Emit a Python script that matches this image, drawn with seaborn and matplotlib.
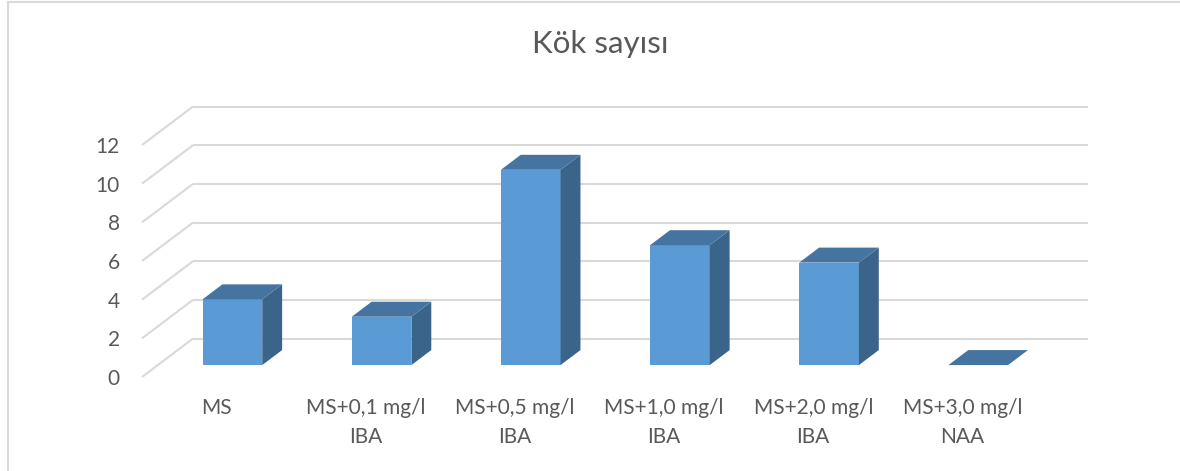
import matplotlib
matplotlib.use("Agg")
import matplotlib.pyplot as plt
from matplotlib.patches import Polygon, Rectangle
import seaborn as sns
import pandas as pd

# --- data -------------------------------------------------------------
categories = [
    "MS",
    "MS+0,1 mg/l\nIBA",
    "MS+0,5 mg/l\nIBA",
    "MS+1,0 mg/l\nIBA",
    "MS+2,0 mg/l\nIBA",
    "MS+3,0 mg/l\nNAA",
]
root_counts = [3.4, 2.5, 10.1, 6.2, 5.3, 0.0]
y_ticks = [0, 2, 4, 6, 8, 10, 12]
title_text = "Kök sayısı"

# --- style -------------------------------------------------------------
FRONT = "#5B9BD5"
TOP = "#4674A0"
SIDE = "#3A6489"
GRID = "#D9D9D9"
TEXT = "#595959"

# oblique "3-D" projection expressed in data units of the front plane
WALL_DX, WALL_DY = 0.342, 1.99   # offset of the back wall
BAR_FRONT = 0.31                 # depth fraction where bar front faces sit
BAR_DEPTH = 0.39                 # depth fraction spanned by each bar
BAR_WIDTH = 0.40

sns.set_theme(style="white")
plt.rcParams["font.family"] = "Lato"

W, H = 1180, 471
fig = plt.figure(figsize=(W / 100, H / 100), dpi=100)
ax = fig.add_axes([142 / W, (H - 377) / H, 895 / W, 232 / H])
ax.set_facecolor("none")

df = pd.DataFrame({"treatment": categories, "roots": root_counts})
sns.barplot(data=df, x="treatment", y="roots", ax=ax, color=FRONT,
            saturation=1, width=BAR_WIDTH, zorder=3, linewidth=0)

x_lo, x_hi = -0.5, len(categories) - 0.5

# back wall gridlines and the diagonals on the left side wall
for v in y_ticks:
    ax.plot([x_lo + WALL_DX, x_hi + WALL_DX], [v + WALL_DY, v + WALL_DY],
            color=GRID, lw=1.5, clip_on=False, zorder=1,
            solid_capstyle="butt")
    ax.plot([x_lo, x_lo + WALL_DX], [v, v + WALL_DY],
            color=GRID, lw=1.5, clip_on=False, zorder=1,
            solid_capstyle="butt")

# turn the flat bars into boxes: shift front faces back, add side and top
fx, fy = BAR_FRONT * WALL_DX, BAR_FRONT * WALL_DY
dx, dy = BAR_DEPTH * WALL_DX, BAR_DEPTH * WALL_DY
for patch, val in zip(ax.patches, root_counts):
    x0 = patch.get_x() + fx
    w = patch.get_width()
    patch.set_x(x0)
    patch.set_y(fy)
    patch.set_height(val)
    x1 = x0 + w
    top = fy + val
    side = Polygon([(x1, fy), (x1 + dx, fy + dy), (x1 + dx, top + dy), (x1, top)],
                   closed=True, facecolor=SIDE, edgecolor="none", zorder=3,
                   clip_on=False)
    lid = Polygon([(x0, top), (x0 + dx, top + dy), (x1 + dx, top + dy), (x1, top)],
                  closed=True, facecolor=TOP, edgecolor="none", zorder=3,
                  clip_on=False)
    ax.add_patch(side)
    ax.add_patch(lid)

ax.set_xlim(x_lo, x_hi)
ax.set_ylim(0, 12)
ax.set_yticks(y_ticks)
ax.set_yticklabels([str(t) for t in y_ticks])
ax.set_xlabel("")
ax.set_ylabel("")
for s in ax.spines.values():
    s.set_visible(False)
ax.tick_params(axis="y", length=0, pad=16, labelsize=15, labelcolor=TEXT)
ax.tick_params(axis="x", length=0, labelbottom=False)

# category labels: every line centred on its category position
LINE_STEP = 21  # points between label lines
for i, name in enumerate(categories):
    for k, line in enumerate(name.split("\n")):
        ax.annotate(line, xy=(i, 0), xycoords=("data", "axes fraction"),
                    xytext=(0, -22 - k * LINE_STEP), textcoords="offset points",
                    ha="center", va="center", fontsize=15, color=TEXT)

fig.text(600 / W, 1 - 44 / H, title_text, ha="center", va="center",
         fontsize=22.5, color=TEXT)

# chart frame
fig.patches.append(Rectangle((8 / W, -0.1), 1.2, 1.1 - 1.5 / H,
                             transform=fig.transFigure, fill=False,
                             edgecolor=GRID, lw=1.5, zorder=0))

fig.savefig("out.png", dpi=100, facecolor="white")
